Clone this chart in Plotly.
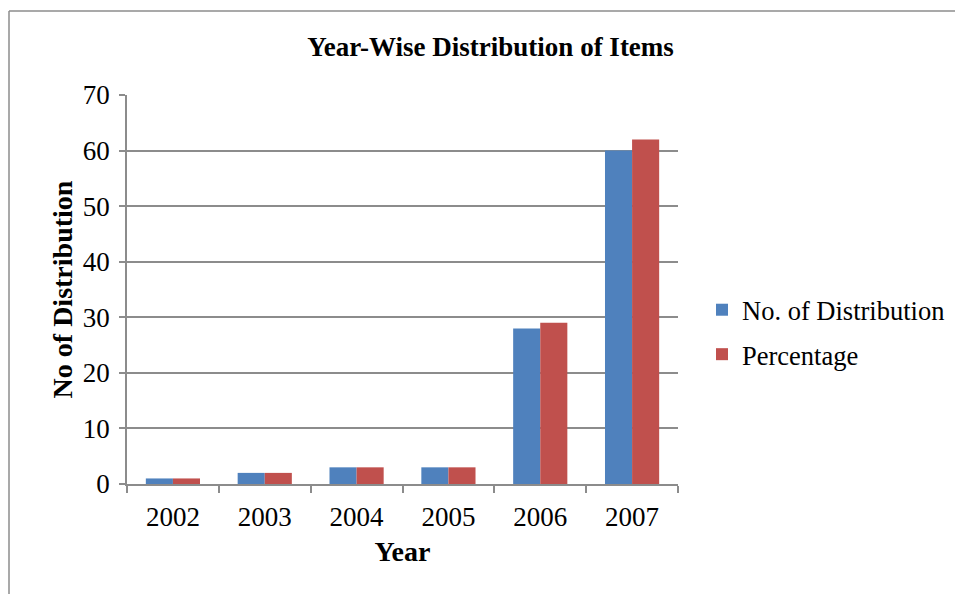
import plotly.graph_objects as go

years = ["2002", "2003", "2004", "2005", "2006", "2007"]
no_of_distribution = [1, 2, 3, 3, 28, 60]
percentage = [1, 2, 3, 3, 29, 62]

FONT = "Liberation Serif, Times New Roman, serif"
GRID = "#8c8c8c"

fig = go.Figure()
fig.add_trace(go.Bar(x=years, y=no_of_distribution, name="No. of Distribution",
                     legendgroup="a",
                     marker=dict(color="#4f81bd", line=dict(width=0))))
fig.add_trace(go.Bar(x=years, y=percentage, name="Percentage",
                     legendgroup="b",
                     marker=dict(color="#c0504d", line=dict(width=0))))

fig.update_layout(
    width=955, height=594,
    margin=dict(l=127, r=277, t=95, b=110, autoexpand=False),
    paper_bgcolor="white", plot_bgcolor="white",
    barmode="group", bargap=0.41, bargroupgap=0,
    font=dict(family=FONT, color="black", size=27),
    title=dict(text="<b>Year-Wise Distribution of Items</b>",
               x=(308 + 673) / 2 / 955, xanchor="center",
               y=1 - 47 / 594, yanchor="middle",
               font=dict(size=27, family=FONT)),
    legend=dict(x=(702 - 127) / 551, y=(484 - 332) / 389, xanchor="left", yanchor="middle",
                font=dict(size=26.5, family=FONT), itemwidth=30,
                traceorder="grouped", tracegroupgap=7,
                bgcolor="rgba(0,0,0,0)"),
    showlegend=True,
)

fig.update_xaxes(
    automargin=False,
    showline=True, linecolor=GRID, linewidth=1.5,
    ticks="outside", tickson="boundaries", ticklen=7, tickcolor=GRID, tickwidth=1.5,
    ticklabelstandoff=8,
    tickfont=dict(size=27, family=FONT),
    title=dict(text="<b>Year</b>", font=dict(size=28, family=FONT), standoff=10),
    showgrid=False,
)
fig.update_yaxes(
    automargin=False,
    range=[0, 70], dtick=10,
    showline=True, linecolor=GRID, linewidth=1.5,
    showgrid=True, gridcolor=GRID, gridwidth=1.5,
    ticks="outside", ticklen=6, tickcolor=GRID, tickwidth=1.5,
    ticklabelstandoff=4,
    tickfont=dict(size=27, family=FONT),
    title=dict(text="<b>No of Distribution</b>", font=dict(size=28, family=FONT), standoff=2),
    zeroline=False,
)

# Outer chart frame, partly running past the page edge
fig.add_shape(type="line", xref="paper", yref="paper",
              x0=(9 - 127) / 551, x1=1.6, y0=(484 - 11) / 389, y1=(484 - 11) / 389,
              line=dict(color="#8c8c8c", width=1.5))
fig.add_shape(type="line", xref="paper", yref="paper",
              x0=(9 - 127) / 551, x1=(9 - 127) / 551, y0=(484 - 11) / 389, y1=-0.5,
              line=dict(color="#8c8c8c", width=1.5))

fig.write_html("out.html")
